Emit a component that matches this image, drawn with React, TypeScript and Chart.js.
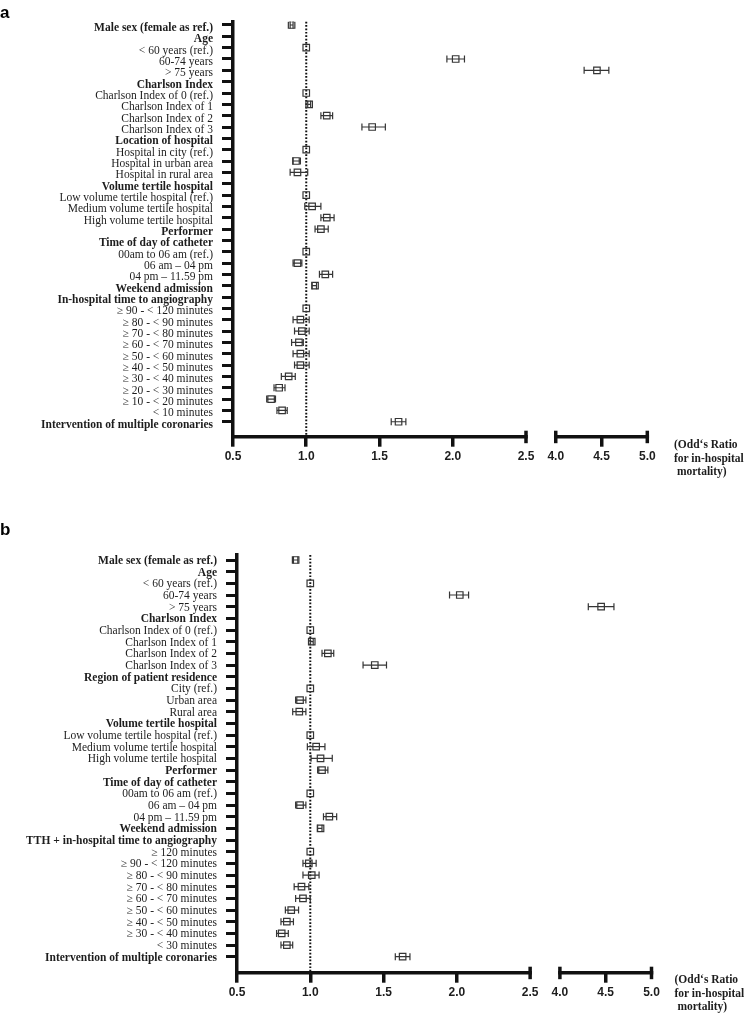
import React, { useEffect, useRef } from "react";
import { Chart, registerables } from "chart.js";

Chart.register(...registerables);

// ---------------- data ----------------
const X_TICK_VALUES = [0.5, 1.0, 1.5, 2.0, 2.5, 4.0, 4.5, 5.0];
const X_TICK_LABELS = ["0.5", "1.0", "1.5", "2.0", "2.5", "4.0", "4.5", "5.0"];
const X_SEGMENTS = [
  [0.5, 2.5],
  [4.0, 5.0],
];
const REFERENCE_OR = 1.0;
const AXIS_TITLE_LINES = ["(Odd\u2018s Ratio", "for in-hospital", " mortality)"];
const PANEL_LETTERS = ["a", "b"];

const LABELS_A = [
  "Male sex (female as ref.)",
  "Age",
  "< 60 years (ref.)",
  "60-74 years",
  "> 75 years",
  "Charlson Index",
  "Charlson Index of 0 (ref.)",
  "Charlson Index of 1",
  "Charlson Index of 2",
  "Charlson Index of 3",
  "Location of hospital",
  "Hospital in city (ref.)",
  "Hospital in urban area",
  "Hospital in rural area",
  "Volume tertile hospital",
  "Low volume tertile hospital (ref.)",
  "Medium volume tertile hospital",
  "High volume tertile hospital",
  "Performer",
  "Time of day of catheter",
  "00am to 06 am (ref.)",
  "06 am \u2013 04 pm",
  "04 pm \u2013 11.59 pm",
  "Weekend admission",
  "In-hospital time to angiography",
  "\u2265 90 - < 120 minutes",
  "\u2265 80 - < 90 minutes",
  "\u2265 70 - < 80 minutes",
  "\u2265 60 - < 70 minutes",
  "\u2265 50 - < 60 minutes",
  "\u2265 40 - < 50 minutes",
  "\u2265 30 - < 40 minutes",
  "\u2265 20 - < 30 minutes",
  "\u2265 10 - < 20 minutes",
  "< 10 minutes",
  "Intervention of multiple coronaries",
];
const BOLD_A = [1, 1, 0, 0, 0, 1, 0, 0, 0, 0, 1, 0, 0, 0, 1, 0, 0, 0, 1, 1, 0, 0, 0, 1, 1, 0, 0, 0, 0, 0, 0, 0, 0, 0, 0, 1];
const OR_A = [0.90, null, 1.00, 2.02, 4.45, null, 1.00, 1.02, 1.14, 1.45, null, 1.00, 0.93, 0.94, null, 1.00, 1.04, 1.14, 1.10, null, 1.00, 0.94, 1.13, 1.06, null, 1.00, 0.96, 0.97, 0.95, 0.96, 0.96, 0.88, 0.815, 0.76, 0.835, 1.63];
const LO_A = [0.89, null, null, 1.96, 4.31, null, null, 1.01, 1.10, 1.38, null, null, 0.91, 0.89, null, null, 0.99, 1.10, 1.06, null, null, 0.91, 1.09, 1.04, null, null, 0.91, 0.92, 0.90, 0.91, 0.92, 0.83, 0.78, 0.73, 0.80, 1.58];
const HI_A = [0.91, null, null, 2.08, 4.58, null, null, 1.03, 1.18, 1.54, null, null, 0.96, 1.01, null, null, 1.10, 1.19, 1.15, null, null, 0.97, 1.18, 1.07, null, null, 1.02, 1.02, 0.98, 1.02, 1.02, 0.925, 0.855, 0.79, 0.87, 1.68];

const LABELS_B = [
  "Male sex (female as ref.)",
  "Age",
  "< 60 years (ref.)",
  "60-74 years",
  "> 75 years",
  "Charlson Index",
  "Charlson Index of 0 (ref.)",
  "Charlson Index of 1",
  "Charlson Index of 2",
  "Charlson Index of 3",
  "Region of patient residence",
  "City (ref.)",
  "Urban area",
  "Rural area",
  "Volume tertile hospital",
  "Low volume tertile hospital (ref.)",
  "Medium volume tertile hospital",
  "High volume tertile hospital",
  "Performer",
  "Time of day of catheter",
  "00am to 06 am (ref.)",
  "06 am \u2013 04 pm",
  "04 pm \u2013 11.59 pm",
  "Weekend admission",
  "TTH + in-hospital time to angiography",
  "\u2265 120 minutes",
  "\u2265 90 - < 120 minutes",
  "\u2265 80 - < 90 minutes",
  "\u2265 70 - < 80 minutes",
  "\u2265 60 - < 70 minutes",
  "\u2265 50 - < 60 minutes",
  "\u2265 40 - < 50 minutes",
  "\u2265 30 - < 40 minutes",
  "< 30 minutes",
  "Intervention of multiple coronaries",
];
const BOLD_B = [1, 1, 0, 0, 0, 1, 0, 0, 0, 0, 1, 0, 0, 0, 1, 0, 0, 0, 1, 1, 0, 0, 0, 1, 1, 0, 0, 0, 0, 0, 0, 0, 0, 0, 1];
const OR_B = [0.90, null, 1.00, 2.02, 4.45, null, 1.00, 1.01, 1.12, 1.44, null, 1.00, 0.93, 0.925, null, 1.00, 1.04, 1.07, 1.08, null, 1.00, 0.93, 1.13, 1.07, null, 1.00, 0.99, 1.01, 0.94, 0.95, 0.87, 0.84, 0.805, 0.84, 1.63];
const LO_B = [0.885, null, null, 1.95, 4.31, null, null, 1.00, 1.08, 1.36, null, null, 0.90, 0.88, null, null, 0.98, 1.005, 1.05, null, null, 0.90, 1.09, 1.05, null, null, 0.95, 0.95, 0.89, 0.90, 0.83, 0.80, 0.77, 0.80, 1.58];
const HI_B = [0.915, null, null, 2.08, 4.59, null, null, 1.02, 1.16, 1.52, null, null, 0.97, 0.97, null, null, 1.10, 1.15, 1.12, null, null, 0.97, 1.18, 1.08, null, null, 1.04, 1.06, 0.99, 1.00, 0.92, 0.885, 0.85, 0.88, 1.68];

// ---------------- style / layout ----------------
const SERIF = "'Liberation Serif', 'Times New Roman', Times, serif";
const SANS = "'Liberation Sans', Arial, Helvetica, sans-serif";
const INK = "#111111";
const MARK = "#353535";
const TEXT = "#1d1d1d";
const W = 747;

// broken-axis mapping (display units of the lower segment)
const BREAK_GAP = 0.203;
const UPPER_SCALE = 0.625;
const toAxis = (v: number) =>
  v <= X_SEGMENTS[0][1] ? v : X_SEGMENTS[0][1] + BREAK_GAP + (v - X_SEGMENTS[1][0]) * UPPER_SCALE;

const GEOM_A = { top: 0, height: 490, plotLeft: 233, plotRight: 647.3, plotTop: 21.7, axisY: 436.7, yMin: -0.29, yMax: 36.32, labelOffset: 3, titleTop: 438.2, titleLeft: 674, letterTop: 3.9 };
const GEOM_B = { top: 495, height: 520, plotLeft: 237, plotRight: 651.5, plotTop: 60, axisY: 477.7, yMin: -0.43, yMax: 35.37, labelOffset: 1, titleTop: 973.2, titleLeft: 674.5, letterTop: 520.6 };

type Geom = typeof GEOM_A;

function ForestPanel(props: {
  g: Geom;
  labels: string[];
  bold: number[];
  or: (number | null)[];
  lo: (number | null)[];
  hi: (number | null)[];
}) {
  const { g, labels, bold, or, lo, hi } = props;
  const ref = useRef<HTMLCanvasElement | null>(null);

  useEffect(() => {
    const canvas = ref.current;
    if (!canvas) return;
    const points = or
      .map((v, i) => (v == null ? null : { x: toAxis(v), y: i }))
      .filter((p) => p !== null);

    const capValues = [X_SEGMENTS[0][1], X_SEGMENTS[1][0], X_SEGMENTS[1][1]];

    const forestPlugin = {
      id: "forest",
      beforeDatasetsDraw(chart: any) {
        const { ctx, chartArea, scales } = chart;
        const px = scales.x.getPixelForValue(toAxis(REFERENCE_OR));
        ctx.save();
        ctx.setLineDash([1.7, 1.7]);
        ctx.lineWidth = 2;
        ctx.strokeStyle = INK;
        ctx.beginPath();
        ctx.moveTo(px, chartArea.top);
        ctx.lineTo(px, chartArea.bottom);
        ctx.stroke();
        ctx.restore();
      },
      afterDatasetsDraw(chart: any) {
        const { ctx, scales } = chart;
        ctx.save();
        ctx.strokeStyle = MARK;
        ctx.lineWidth = 1.2;
        lo.forEach((l, i) => {
          const h = hi[i];
          if (l == null || h == null) return;
          const x1 = scales.x.getPixelForValue(toAxis(l));
          const x2 = scales.x.getPixelForValue(toAxis(h));
          const py = scales.y.getPixelForValue(i);
          ctx.beginPath();
          ctx.moveTo(x1, py);
          ctx.lineTo(x2, py);
          ctx.moveTo(x1, py - 3.5);
          ctx.lineTo(x1, py + 3.5);
          ctx.moveTo(x2, py - 3.5);
          ctx.lineTo(x2, py + 3.5);
          ctx.stroke();
        });
        ctx.restore();
      },
      afterDraw(chart: any) {
        const { ctx, chartArea, scales } = chart;
        const y = chartArea.bottom;
        const lw = 3.5;
        ctx.save();
        ctx.strokeStyle = INK;
        ctx.lineWidth = lw;
        ctx.lineCap = "butt";
        X_SEGMENTS.forEach(([a, b]) => {
          const xa = scales.x.getPixelForValue(toAxis(a));
          const xb = scales.x.getPixelForValue(toAxis(b));
          ctx.beginPath();
          ctx.moveTo(xa - lw / 2, y);
          ctx.lineTo(xb + lw / 2, y);
          ctx.stroke();
        });
        capValues.forEach((v) => {
          const xv = scales.x.getPixelForValue(toAxis(v));
          ctx.beginPath();
          ctx.moveTo(xv, y - 6);
          ctx.lineTo(xv, y + 6.5);
          ctx.stroke();
        });
        ctx.restore();
      },
    };

    const chart = new Chart(canvas, {
      type: "scatter",
      data: {
        datasets: [
          {
            data: points as any,
            pointStyle: "rect",
            pointRadius: 4.6,
            pointHoverRadius: 4.6,
            borderColor: MARK,
            backgroundColor: "rgba(255,255,255,0)",
            borderWidth: 1.2,
          },
        ],
      },
      options: {
        animation: false,
        responsive: false,
        events: [],
        layout: { padding: { left: 0, right: W - g.plotRight, top: g.plotTop, bottom: 0 } },
        plugins: { legend: { display: false }, tooltip: { enabled: false } },
        scales: {
          x: {
            type: "linear",
            position: "bottom",
            min: toAxis(X_SEGMENTS[0][0]),
            max: toAxis(X_SEGMENTS[1][1]),
            afterBuildTicks: (s: any) => {
              s.ticks = X_TICK_VALUES.map((v) => ({ value: toAxis(v) }));
            },
            afterFit: (s: any) => {
              s.height = g.height - g.axisY;
            },
            border: { display: false },
            grid: {
              drawOnChartArea: false,
              drawTicks: true,
              tickLength: 10,
              lineWidth: 3.5,
              tickWidth: 3.5,
              color: "rgba(0,0,0,0)",
              tickColor: (ctx: any) =>
                capValues.includes(X_TICK_VALUES[ctx.index]) ? "rgba(0,0,0,0)" : INK,
            },
            ticks: {
              autoSkip: false,
              maxRotation: 0,
              minRotation: 0,
              padding: 2.5,
              color: TEXT,
              font: { family: SANS, size: 12, weight: "bold" },
              callback: (_v: any, i: number) => X_TICK_LABELS[i],
            },
          },
          y: {
            type: "linear",
            position: "left",
            reverse: true,
            min: g.yMin,
            max: g.yMax,
            afterBuildTicks: (s: any) => {
              s.ticks = labels.map((_l, i) => ({ value: i }));
            },
            afterFit: (s: any) => {
              s.width = g.plotLeft;
            },
            border: { display: true, width: 3.5, color: INK },
            grid: {
              drawOnChartArea: false,
              drawTicks: true,
              tickLength: 11,
              lineWidth: 3,
              tickWidth: 3,
              color: "rgba(0,0,0,0)",
              tickColor: INK,
            },
            ticks: {
              autoSkip: false,
              padding: 9,
              labelOffset: g.labelOffset,
              color: TEXT,
              font: (ctx: any) => ({
                family: SERIF,
                size: 11.5,
                weight: bold[ctx.index] ? "bold" : "normal",
              }),
              callback: (_v: any, i: number) => labels[i],
            },
          },
        },
      } as any,
      plugins: [forestPlugin],
    });
    return () => chart.destroy();
  }, []);

  return (
    <canvas
      ref={ref}
      width={W}
      height={g.height}
      style={{ position: "absolute", left: 0, top: g.top, width: W, height: g.height, display: "block" }}
    />
  );
}

function AxisTitle({ g }: { g: Geom }) {
  return (
    <div
      style={{
        position: "absolute",
        left: g.titleLeft,
        top: g.titleTop,
        font: `bold 11.5px/13.5px ${SERIF}`,
        color: TEXT,
        whiteSpace: "pre",
      }}
    >
      {AXIS_TITLE_LINES.map((t, i) => (
        <div key={i}>{t}</div>
      ))}
    </div>
  );
}

function Letter({ g, text }: { g: Geom; text: string }) {
  return (
    <div
      style={{
        position: "absolute",
        left: 0,
        top: g.letterTop,
        font: `bold 17px/17px ${SANS}`,
        color: "#000",
      }}
    >
      {text}
    </div>
  );
}

export default function App() {
  return (
    <div
      style={{
        position: "absolute",
        left: 0,
        top: 0,
        width: W,
        height: 1015,
        background: "#fff",
        overflow: "hidden",
      }}
    >
      <ForestPanel g={GEOM_A} labels={LABELS_A} bold={BOLD_A} or={OR_A} lo={LO_A} hi={HI_A} />
      <Letter g={GEOM_A} text={PANEL_LETTERS[0]} />
      <AxisTitle g={GEOM_A} />
      <ForestPanel g={GEOM_B} labels={LABELS_B} bold={BOLD_B} or={OR_B} lo={LO_B} hi={HI_B} />
      <Letter g={GEOM_B} text={PANEL_LETTERS[1]} />
      <AxisTitle g={GEOM_B} />
    </div>
  );
}
